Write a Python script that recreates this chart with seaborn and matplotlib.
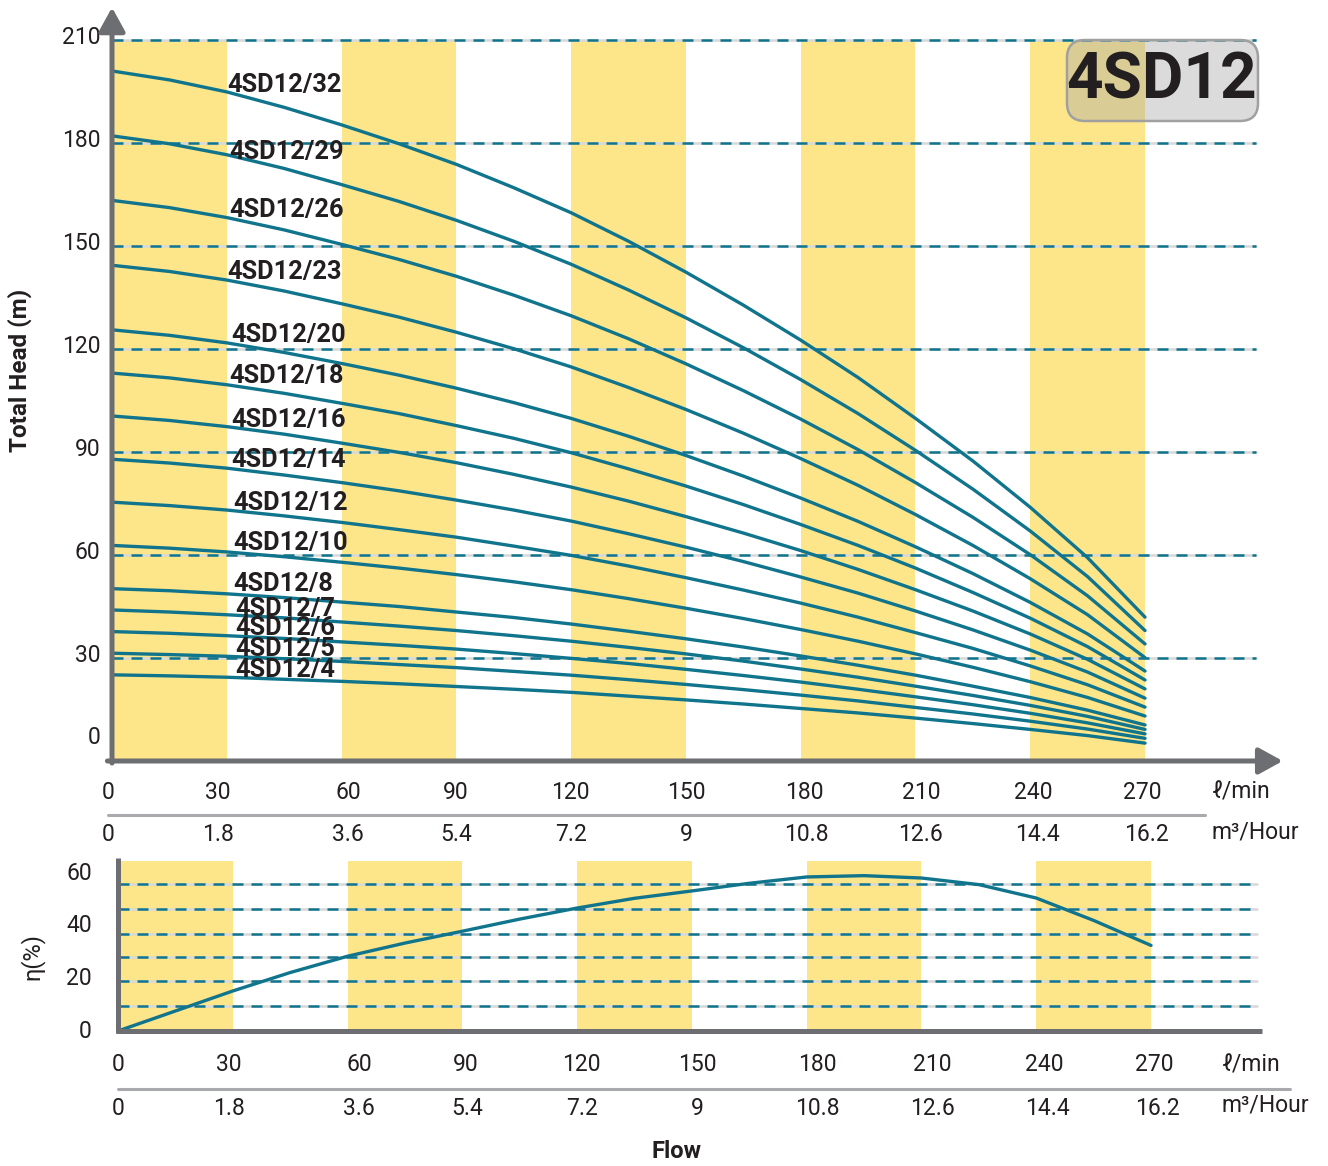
import pandas as pd
import matplotlib
matplotlib.use("Agg")
import matplotlib.pyplot as plt
import seaborn as sns
from matplotlib.patches import FancyBboxPatch
from matplotlib.transforms import IdentityTransform

# Debit (l/min) des points lus
flow = [0, 15, 30, 45, 60, 75, 90, 105, 120, 135, 150, 165, 180, 195, 210,
        225, 240, 255, 270]

# Graduations de l'axe des debits
flow_ticks = [0, 30, 60, 90, 120, 150, 180, 210, 240, 270]
flow_m3h = ["0", "1.8", "3.6", "5.4", "7.2", "9", "10.8", "12.6", "14.4", "16.2"]

# Courbes HMT (m)
h32 = [201.0, 198.4, 194.9, 190.4, 185.3, 179.8, 173.8, 167.0, 159.7, 151.4,
       142.4, 132.8, 122.6, 111.7, 99.8, 87.4, 73.9, 59.2, 41.9]
h29 = [182.1, 179.8, 176.6, 172.6, 167.9, 163.0, 157.5, 151.4, 144.7, 137.2,
       129.1, 120.4, 111.1, 101.2, 90.5, 79.2, 67.0, 53.7, 38.0]
h26 = [163.3, 161.2, 158.3, 154.7, 150.5, 146.1, 141.2, 135.7, 129.7, 123.0,
       115.7, 107.9, 99.6, 90.7, 81.1, 71.0, 60.1, 48.1, 34.1]
h23 = [144.4, 142.6, 140.1, 136.9, 133.2, 129.3, 124.9, 120.1, 114.8, 108.8,
       102.4, 95.5, 88.1, 80.3, 71.8, 62.8, 53.1, 42.6, 30.1]
h20 = [125.6, 124.0, 121.8, 119.0, 115.8, 112.4, 108.6, 104.4, 99.8, 94.6,
       89.0, 83.0, 76.6, 69.8, 62.4, 54.6, 46.2, 37.0, 26.2]
h18 = [113.0, 111.6, 109.6, 107.1, 104.2, 101.2, 97.7, 94.0, 89.8, 85.1,
       80.1, 74.7, 68.9, 62.8, 56.2, 49.1, 41.6, 33.3, 23.6]
h16 = [100.5, 99.2, 97.4, 95.2, 92.6, 89.9, 86.9, 83.5, 79.8, 75.7,
       71.2, 66.4, 61.3, 55.8, 49.9, 43.7, 37.0, 29.6, 21.0]
h14 = [87.9, 86.8, 85.3, 83.3, 81.1, 78.7, 76.0, 73.1, 69.9, 66.2,
       62.3, 58.1, 53.6, 48.9, 43.7, 38.2, 32.3, 25.9, 18.3]
h12 = [75.4, 74.4, 73.1, 71.4, 69.5, 67.4, 65.2, 62.6, 59.9, 56.8,
       53.4, 49.8, 46.0, 41.9, 37.4, 32.8, 27.7, 22.2, 15.7]
h10 = [62.8, 62.0, 60.9, 59.5, 57.9, 56.2, 54.3, 52.2, 49.9, 47.3,
       44.5, 41.5, 38.3, 34.9, 31.2, 27.3, 23.1, 18.5, 13.1]
h8 = [50.2, 49.6, 48.7, 47.6, 46.3, 45.0, 43.4, 41.8, 39.9, 37.8,
      35.6, 33.2, 30.6, 27.9, 25.0, 21.8, 18.5, 14.8, 10.5]
h7 = [44.0, 43.4, 42.6, 41.7, 40.5, 39.3, 38.0, 36.5, 34.9, 33.1,
      31.2, 29.1, 26.8, 24.4, 21.8, 19.1, 16.2, 13.0, 9.2]
h6 = [37.7, 37.2, 36.5, 35.7, 34.7, 33.7, 32.6, 31.3, 29.9, 28.4,
      26.7, 24.9, 23.0, 20.9, 18.7, 16.4, 13.9, 11.1, 7.9]
h5 = [31.4, 31.0, 30.5, 29.8, 29.0, 28.1, 27.2, 26.1, 25.0, 23.7,
      22.3, 20.8, 19.2, 17.5, 15.6, 13.7, 11.6, 9.3, 6.6]
h4 = [25.1, 24.8, 24.4, 23.8, 23.2, 22.5, 21.7, 20.9, 20.0, 18.9,
      17.8, 16.6, 15.3, 14.0, 12.5, 10.9, 9.2, 7.4, 5.2]

models = ["4SD12/32", "4SD12/29", "4SD12/26", "4SD12/23", "4SD12/20",
          "4SD12/18", "4SD12/16", "4SD12/14", "4SD12/12", "4SD12/10",
          "4SD12/8", "4SD12/7", "4SD12/6", "4SD12/5", "4SD12/4"]
heads = [h32, h29, h26, h23, h20, h18, h16, h14, h12, h10, h8, h7, h6, h5, h4]

# Rendement (%)
eff = [0, 7.6, 15.2, 22.2, 28.4, 33.4, 37.9, 42.5, 46.7, 50.4, 53.2, 56.1,
       58.5, 59.0, 58.1, 55.6, 50.5, 42.0, 32.5]

head_ticks = [0, 30, 60, 90, 120, 150, 180, 210]
eff_ticks = [0, 20, 40, 60]
eff_grid = [9.5, 19, 28, 37, 46.5, 56]

df = pd.DataFrame({
    "model": [m for m, h in zip(models, heads) for _ in h],
    "flow": [q for h in heads for q in flow],
    "head": [v for h in heads for v in h],
})

# Style
teal = "#10758c"
yellow = "#fde58a"
axgray = "#6d6e71"
sepgray = "#a9aaae"
txt = "#231f20"
sns.set_theme(style="white")
plt.rcParams["font.family"] = ["Roboto", "DejaVu Sans"]

W, H = 1328, 1166
fig = plt.figure(figsize=(W / 100, H / 100), dpi=100)

# ---- panneau HMT
ax = fig.add_axes([112 / W, (H - 761) / H, 306 * 3.826 / W, 219.5 * 3.433 / H])
ax.set_xlim(0, 306)
ax.set_ylim(0, 219.5)

for lo in [0, 60, 120, 180, 240]:
    ax.fill_between([lo, lo + 30], 0, 210, color=yellow, lw=0, zorder=0)
for v in head_ticks[1:]:
    ax.plot([0, 299], [v, v], color="#d8d8d8", lw=1.8, zorder=1)
    ax.plot([0, 299], [v, v], color=teal, lw=1.8, ls=(0, (4.4, 3.2)), zorder=1)

sns.lineplot(data=df, x="flow", y="head", units="model", estimator=None,
             color=teal, linewidth=2.4, ax=ax, legend=False, zorder=3)

label_x = [30.2, 30.7, 30.7, 30.2, 31.2, 30.7, 31.2, 31.2, 31.7, 31.7,
           31.7, 32.3, 32.3, 32.3, 32.3]
label_y = [196.9, 177.4, 160.5, 142.4, 124.2, 112.1, 99.4, 87.7, 75.1, 63.6,
           51.6, 44.4, 38.6, 32.6, 26.4]
for m, lx, ly in zip(models, label_x, label_y):
    ax.text(lx, ly, m, fontsize=18.3, fontweight="bold", color=txt,
            ha="left", va="center", zorder=4)

arrow = dict(arrowstyle="-|>,head_length=1.45,head_width=0.8", color=axgray,
             lw=3.6, shrinkA=0, shrinkB=0, mutation_scale=10)
ax.annotate("", xy=(306, 0), xytext=(-1.2, 0), arrowprops=arrow,
            annotation_clip=False, zorder=5)
ax.annotate("", xy=(0, 219.5), xytext=(0, -0.6), arrowprops=arrow,
            annotation_clip=False, zorder=5)

top_x1 = [-1, 27.7, 61.7, 89.9, 119.7, 150, 181, 211.4, 240.7, 269.2]
top_x2 = [-1, 27.7, 61.7, 89.9, 120, 150, 181.4, 211.4, 241.8, 270.3]
for v in head_ticks:
    ax.text(-3.1, 6.7 if v == 0 else v + 0.8, str(v), fontsize=16.5, color=txt,
            ha="right", va="center", clip_on=False)
for q, lab, x1, x2 in zip(flow_ticks, flow_m3h, top_x1, top_x2):
    ax.text(x1, -9.3, str(q), fontsize=16.5, color=txt, ha="center",
            va="center", clip_on=False)
    ax.text(x2, -21.4, lab, fontsize=16.5, color=txt, ha="center",
            va="center", clip_on=False)
ax.plot([-1, 285.7], [-15.7, -15.7], color=sepgray, lw=2.2, clip_on=False)
ax.text(287.5, -9.0, "ℓ/min", fontsize=16.5, color=txt, ha="left",
        va="center", clip_on=False)
ax.text(287.5, -20.6, "m³/Hour", fontsize=16.5, color=txt, ha="left",
        va="center", clip_on=False)
ax.set_axis_off()

# ---- panneau rendement
ax2 = fig.add_axes([118 / W, (H - 1031) / H, 299 * 3.826 / W, 65.7 * 2.633 / H])
ax2.set_xlim(0, 299)
ax2.set_ylim(0, 65.7)
for lo in [0, 60, 120, 180, 240]:
    ax2.fill_between([lo, lo + 30], 0, 64.6, color=yellow, lw=0, zorder=0)
for v in eff_grid:
    ax2.plot([0, 297.6], [v, v], color="#d8d8d8", lw=1.8, zorder=1)
    ax2.plot([0, 297.6], [v, v], color=teal, lw=1.8, ls=(0, (4.4, 3.2)), zorder=1)
sns.lineplot(x=flow, y=eff, color=teal, linewidth=2.4, ax=ax2, zorder=3)
ax2.plot([-0.6, 299], [0, 0], color=axgray, lw=3.6, clip_on=False,
         solid_capstyle="butt", zorder=5)
ax2.plot([0, 0], [-0.9, 65.7], color=axgray, lw=3.6, clip_on=False,
         solid_capstyle="butt", zorder=5)

bot_x1 = [0, 29, 63, 91, 121, 151.3, 182.7, 212.8, 242, 270.8]
bot_x2 = [0, 29, 63, 91.2, 121.3, 151.3, 182.7, 212.8, 242.8, 271.8]
for v in eff_ticks:
    ax2.text(-6.8, v, str(v), fontsize=16.5, color=txt, ha="right",
             va="center", clip_on=False)
for q, lab, x1, x2 in zip(flow_ticks, flow_m3h, bot_x1, bot_x2):
    ax2.text(x1, -12.6, str(q), fontsize=16.5, color=txt, ha="center",
             va="center", clip_on=False)
    ax2.text(x2, -29.4, lab, fontsize=16.5, color=txt, ha="center",
             va="center", clip_on=False)
ax2.plot([0, 306.3], [-22, -22], color=sepgray, lw=2.2, clip_on=False)
ax2.text(288.5, -12.9, "ℓ/min", fontsize=16.5, color=txt, ha="left",
         va="center", clip_on=False)
ax2.text(288.5, -28.1, "m³/Hour", fontsize=16.5, color=txt, ha="left",
         va="center", clip_on=False)
ax2.text(146, -45.6, "Flow", fontsize=17, fontweight="bold", color=txt,
         ha="center", va="center", clip_on=False)
ax2.set_axis_off()

# Titres des axes
fig.text(20 / W, 1 - 370 / H, "Total Head (m)", rotation=90, fontsize=17.5,
         fontweight="bold", color=txt, ha="center", va="center")
fig.text(32 / W, 1 - 957 / H, "η(%)", rotation=90, fontsize=17, color=txt,
         ha="center", va="center")

# Cartouche modele
badge = FancyBboxPatch((1067, H - 121), 191, 81,
                       boxstyle="round,pad=0,rounding_size=18",
                       transform=IdentityTransform(), facecolor="#a7a7a7",
                       alpha=0.4, edgecolor="none", zorder=10)
fig.patches.append(badge)
badge_edge = FancyBboxPatch((1067, H - 121), 191, 81,
                            boxstyle="round,pad=0,rounding_size=18",
                            transform=IdentityTransform(), facecolor="none",
                            edgecolor="#a0a0a0", lw=1.8, zorder=11)
fig.patches.append(badge_edge)
fig.text(1162 / W, 1 - 81 / H, "4SD12", fontsize=46, fontweight="bold",
         color=txt, ha="center", va="center", zorder=12)

fig.savefig("out.png", dpi=100)
